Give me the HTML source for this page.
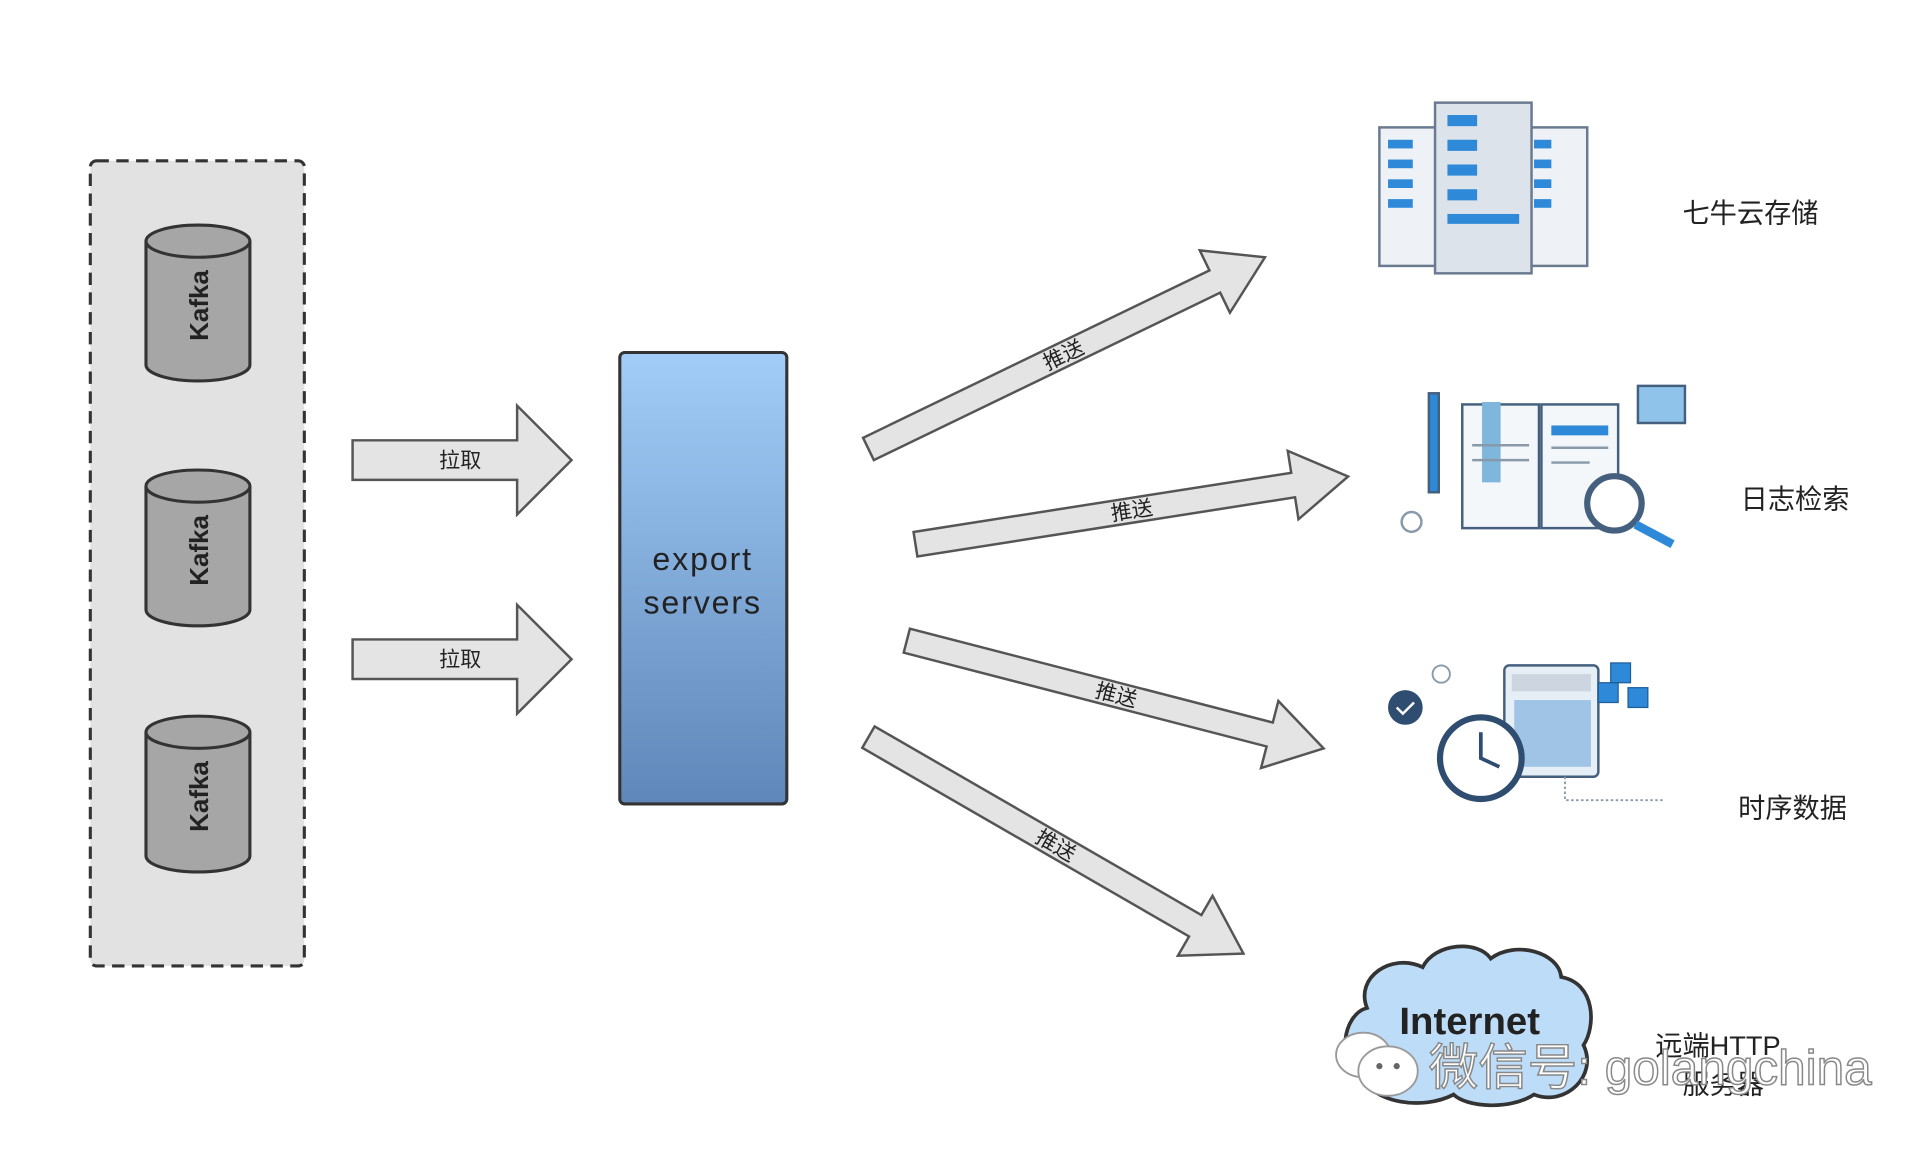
<!DOCTYPE html>
<html><head><meta charset="utf-8"><style>
html,body{margin:0;padding:0;background:#fff;width:1920px;height:1149px;overflow:hidden}
svg{display:block}
text{font-family:"Liberation Sans","Noto Sans CJK SC",sans-serif}
</style></head><body>
<svg width="1920" height="1149" viewBox="0 0 1552 929" preserveAspectRatio="none" xmlns="http://www.w3.org/2000/svg">
<defs>
<linearGradient id="g" x1="0" y1="0" x2="0" y2="1"><stop offset="0" stop-color="#a2cdf8"/><stop offset="1" stop-color="#5f87b9"/></linearGradient>
<g id="cyl">
<path d="M-42,-50 L-42,50 A42,13 0 0 0 42,50 L42,-50" fill="#a6a6a6" stroke="#333" stroke-width="2.5"/>
<ellipse cx="0" cy="-50" rx="42" ry="13" fill="#a6a6a6" stroke="#333" stroke-width="2.5"/>
<text transform="rotate(-90)" x="-2" y="8" text-anchor="middle" font-size="21" font-weight="bold" fill="#222">Kafka</text>
</g>
</defs>
<rect x="73" y="130" width="173" height="651" rx="5" fill="#e2e2e2" stroke="#333" stroke-width="2.5" stroke-dasharray="10,6"/>
<use href="#cyl" x="160" y="245"/>
<use href="#cyl" x="160" y="443"/>
<use href="#cyl" x="160" y="642"/>
<polygon points="285,356 418,356 418,328 462,372 418,416 418,388 285,388" fill="#e4e4e4" stroke="#555" stroke-width="2"/>
<text x="372" y="378" text-anchor="middle" font-size="17" fill="#222">拉取</text>
<polygon points="285,517 418,517 418,489 462,533 418,577 418,549 285,549" fill="#e4e4e4" stroke="#555" stroke-width="2"/>
<text x="372" y="539" text-anchor="middle" font-size="17" fill="#222">拉取</text>
<rect x="501" y="285" width="135" height="365" rx="4" fill="url(#g)" stroke="#333" stroke-width="2.5"/>
<text x="568" y="461" text-anchor="middle" font-size="26" fill="#222" letter-spacing="1.5">export</text>
<text x="568" y="496" text-anchor="middle" font-size="26" fill="#222" letter-spacing="1.5">servers</text>
<g transform="translate(702,363) rotate(-25.8)"><polygon points="0,-10 311,-10 311,-28 356,0 311,28 311,10 0,10" fill="#e4e4e4" stroke="#555" stroke-width="2"/><text x="175" y="6" text-anchor="middle" font-size="17" fill="#222">推送</text></g>
<g transform="translate(740,440) rotate(-8.9)"><polygon points="0,-10 309,-10 309,-28 354,0 309,28 309,10 0,10" fill="#e4e4e4" stroke="#555" stroke-width="2"/><text x="177" y="6" text-anchor="middle" font-size="17" fill="#222">推送</text></g>
<g transform="translate(733,518) rotate(14.5)"><polygon points="0,-10 303,-10 303,-28 348,0 303,28 303,10 0,10" fill="#e4e4e4" stroke="#555" stroke-width="2"/><text x="175" y="6" text-anchor="middle" font-size="17" fill="#222">推送</text></g>
<g transform="translate(702,596) rotate(30)"><polygon points="0,-10 305,-10 305,-28 350,0 305,28 305,10 0,10" fill="#e4e4e4" stroke="#555" stroke-width="2"/><text x="175" y="6" text-anchor="middle" font-size="17" fill="#222">推送</text></g>
<!-- server icon -->
<g stroke="#6a7a90" stroke-width="2">
<rect x="1115" y="103" width="50" height="112" fill="#eef1f5"/>
<rect x="1233" y="103" width="50" height="112" fill="#eef1f5"/>
<rect x="1160" y="83" width="78" height="138" fill="#dde3ea"/>
</g>
<g fill="#2e8ad8">
<rect x="1122" y="113" width="20" height="7"/><rect x="1122" y="129" width="20" height="7"/><rect x="1122" y="145" width="20" height="7"/><rect x="1122" y="161" width="20" height="7"/>
<rect x="1240" y="113" width="14" height="7"/><rect x="1240" y="129" width="14" height="7"/><rect x="1240" y="145" width="14" height="7"/><rect x="1240" y="161" width="14" height="7"/>
<rect x="1170" y="93" width="24" height="9"/><rect x="1170" y="113" width="24" height="9"/><rect x="1170" y="133" width="24" height="9"/><rect x="1170" y="153" width="24" height="9"/><rect x="1170" y="173" width="58" height="8"/>
</g>
<!-- book icon -->
<g stroke="#45607e" stroke-width="2" fill="#f4f7fa">
<rect x="1182" y="327" width="62" height="100"/><rect x="1246" y="327" width="62" height="100"/>
<rect x="1324" y="312" width="38" height="30" fill="#8fc3ea"/>
<circle cx="1305" cy="407" r="22" fill="#fff" stroke-width="5"/>
<line x1="1322" y1="424" x2="1352" y2="440" stroke="#2e8ad8" stroke-width="7"/>
<rect x="1155" y="318" width="8" height="80" fill="#2e8ad8"/>
</g>
<rect x="1198" y="325" width="15" height="65" fill="#7fb6dc"/>
<rect x="1254" y="344" width="46" height="8" fill="#2e8ad8"/>
<g stroke="#8899aa" stroke-width="2"><line x1="1190" y1="360" x2="1236" y2="360"/><line x1="1190" y1="372" x2="1236" y2="372"/><line x1="1254" y1="362" x2="1300" y2="362"/><line x1="1254" y1="374" x2="1285" y2="374"/></g>
<circle cx="1141" cy="422" r="8" fill="none" stroke="#8899aa" stroke-width="2"/>
<!-- time series icon -->
<rect x="1216" y="538" width="76" height="90" rx="4" fill="#e6eef6" stroke="#45607e" stroke-width="2"/>
<rect x="1222" y="545" width="64" height="14" fill="#cdd6e0"/>
<rect x="1224" y="566" width="62" height="54" fill="#9fc4e6"/>
<circle cx="1197" cy="613" r="33" fill="#fff" stroke="#2f4d70" stroke-width="5"/>
<path d="M1197,592 L1197,613 L1212,620" fill="none" stroke="#2f4d70" stroke-width="3"/>
<circle cx="1136" cy="572" r="14" fill="#2f4d70"/>
<path d="M1129,572 l5,5 l9,-9" fill="none" stroke="#fff" stroke-width="2"/>
<circle cx="1165" cy="545" r="7" fill="none" stroke="#8899aa" stroke-width="1.5"/>
<g fill="#2e8ad8" stroke="#1d5e98" stroke-width="1"><rect x="1302" y="536" width="16" height="16"/><rect x="1292" y="552" width="16" height="16"/><rect x="1316" y="556" width="16" height="16"/></g>
<path d="M1265,628 L1265,647 L1345,647" fill="none" stroke="#8899aa" stroke-width="1.5" stroke-dasharray="2,2"/>
<!-- cloud -->
<path d="M1100,870 C1080,860 1085,820 1105,815 C1095,790 1125,770 1150,782 C1160,762 1195,760 1205,775 C1225,760 1260,770 1262,790 C1290,795 1290,830 1280,845 C1292,870 1265,895 1240,885 C1220,898 1185,895 1175,885 C1150,898 1110,892 1100,870 Z" fill="#bddcf8" stroke="#333" stroke-width="3"/>
<text x="1188" y="836" text-anchor="middle" font-size="31" font-weight="bold" fill="#222">Internet</text>
<g font-size="22" fill="#222">
<text x="1360" y="180">七牛云存储</text>
<text x="1407" y="411">日志检索</text>
<text x="1405" y="661">时序数据</text>
<text x="1338" y="853">远端HTTP</text>
<text x="1360" y="884">服务器</text>
</g>
<!-- watermark -->
<ellipse cx="1102" cy="853" rx="22" ry="18" fill="#fff" stroke="#999" stroke-width="1.5"/>
<ellipse cx="1122" cy="866" rx="24" ry="20" fill="#fff" stroke="#999" stroke-width="1.5"/>
<circle cx="1115" cy="862" r="2.5" fill="#666"/><circle cx="1129" cy="862" r="2.5" fill="#666"/>
<text x="1155" y="877" font-size="40" fill="#fff" stroke="#888" stroke-width="1.2">微信号: golangchina</text>
</svg>
</body></html>
